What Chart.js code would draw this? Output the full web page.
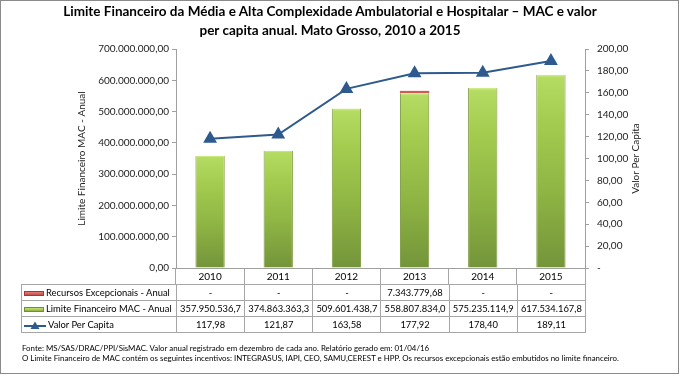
<!DOCTYPE html>
<html>
<head>
<meta charset="utf-8">
<script src="https://cdn.jsdelivr.net/npm/chart.js@4.4.1/dist/chart.umd.min.js"></script>
<style>
html,body{margin:0;padding:0;background:#fff;}
#wrap{position:relative;width:680px;height:376px;overflow:hidden;font-family:Lato,"DejaVu Sans",sans-serif;}
#frame{position:absolute;left:0;top:0;width:677px;height:372px;border:1px solid #8a8a8a;box-sizing:content-box;}
#c{position:absolute;left:0;top:0;}
#title{position:absolute;left:0;top:2px;width:660px;text-align:center;font-weight:bold;font-size:13.5px;line-height:19px;color:#000;}
#tbl{position:absolute;border-collapse:collapse;font-size:9.4px;color:#000;table-layout:fixed;}
#tbl td{border:1px solid #a6a6a6;padding:0;text-align:center;white-space:nowrap;overflow:hidden;height:15px;line-height:15px;}
#tbl td.lg{text-align:left;padding-left:2px;}
.sw{display:inline-block;width:20px;height:5px;vertical-align:middle;margin-right:2px;border:1px solid #777;box-sizing:border-box;}
.note{position:absolute;left:22px;font-size:7.9px;color:#000;white-space:nowrap;}
</style>
</head>
<body>
<div id="wrap">
  <div id="frame"></div>
  <canvas id="c" width="680" height="376"></canvas>
  <div id="title"></div>
  <table id="tbl"></table>
  <div class="note" id="n1" style="top:343px"></div>
  <div class="note" id="n2" style="top:353px"></div>
</div>
<script>
// ---- data ----
const titleLines = ["Limite Financeiro da Média e Alta Complexidade Ambulatorial e Hospitalar – MAC e valor", "per capita anual. Mato Grosso, 2010 a 2015"];
const categories = ["2010", "2011", "2012", "2013", "2014", "2015"];
const seriesNames = ["Recursos Excepcionais - Anual", "Limite Financeiro MAC - Anual", "Valor Per Capita"];
const recursosExcepcionais = [null, null, null, 7343779.68, null, null];
const limiteFinanceiro = [357950536.7, 374863363.3, 509601438.7, 558807834.0, 575235114.9, 617534167.8];
const valorPerCapita = [117.98, 121.87, 163.58, 177.92, 178.40, 189.11];
const leftAxisTitle = "Limite Financeiro MAC - Anual";
const rightAxisTitle = "Valor Per Capita";
const leftAxisMax = 700000000, leftAxisStep = 100000000;
const rightAxisMax = 200, rightAxisStep = 20;
const notes = ["Fonte: MS/SAS/DRAC/PPI/SisMAC. Valor  anual registrado em dezembro de  cada ano. Relatório gerado em: 01/04/16",
  "O Limite Financeiro de MAC contém os seguintes incentivos: INTEGRASUS, IAPI, CEO, SAMU,CEREST e HPP. Os recursos excepcionais estão embutidos no limite financeiro."];

const fmt = (v, d) => v.toLocaleString('pt-BR', {minimumFractionDigits: d, maximumFractionDigits: d});
const fmtTable1 = v => (v === null || v === 0) ? '-' : fmt(Math.floor(v * 10) / 10, 1);
const fmtTable2 = v => (v === null || v === 0) ? '-' : fmt(v, 2);

document.getElementById('title').innerHTML = titleLines.join('<br>');
document.getElementById('n1').textContent = notes[0];
document.getElementById('n2').textContent = notes[1];

const FONT = 'Lato';
const axisCol = '#a0a0a0';

function greenGrad(c) {
  const chart = c.chart;
  const {ctx, chartArea, scales} = chart;
  if (!chartArea || c.raw == null) return '#9bbb59';
  const top = scales.y.getPixelForValue(c.raw);
  const bot = scales.y.getPixelForValue(0);
  const g = ctx.createLinearGradient(0, top, 0, bot);
  g.addColorStop(0, '#d2ee8c');
  g.addColorStop(0.015, '#b4db62');
  g.addColorStop(0.25, '#a3cc4f');
  g.addColorStop(0.6, '#8fb544');
  g.addColorStop(1, '#74943a');
  return g;
}
function redGrad(c) {
  const chart = c.chart;
  const {ctx, chartArea} = chart;
  if (!chartArea) return '#c0504d';
  const g = ctx.createLinearGradient(0, chartArea.top, 0, chartArea.bottom);
  g.addColorStop(0, '#d9605c');
  g.addColorStop(1, '#b8423f');
  return g;
}

// right axis title, read bottom-to-top like the reference
const rightTitlePlugin = {
  id: 'rightTitle',
  afterDraw(chart) {
    const s = chart.scales.y2;
    const {ctx} = chart;
    ctx.save();
    ctx.translate(s.right - 44, (s.top + s.bottom) / 2);
    ctx.rotate(-Math.PI / 2);
    ctx.font = '10px ' + FONT;
    ctx.fillStyle = '#222';
    ctx.textAlign = 'center';
    ctx.textBaseline = 'middle';
    ctx.fillText(rightAxisTitle, 0, 0);
    ctx.restore();
  }
};

const chart = new Chart(document.getElementById('c'), {
  type: 'bar',
  data: {
    labels: categories,
    datasets: [
      {label: seriesNames[1], data: limiteFinanceiro, yAxisID: 'y', stack: 's', order: 1,
       backgroundColor: greenGrad, borderColor: '#7d9b3e', borderWidth: {left: 1, right: 1, top: 0, bottom: 0},
       categoryPercentage: 0.43, barPercentage: 1},
      {label: seriesNames[0], data: recursosExcepcionais, yAxisID: 'y', stack: 's', order: 2,
       backgroundColor: redGrad, borderWidth: 0, categoryPercentage: 0.43, barPercentage: 1},
      {type: 'line', label: seriesNames[2], data: valorPerCapita, yAxisID: 'y2', order: 0,
       borderColor: '#2e5a8e', borderWidth: 2, pointStyle: 'triangle', pointRadius: 6,
       pointBackgroundColor: '#2e5a8e', pointBorderColor: '#2e5a8e', tension: 0}
    ]
  },
  plugins: [rightTitlePlugin],
  options: {
    responsive: false, animation: false,
    layout: {padding: {top: 49, bottom: 92, left: 0, right: 0}},
    plugins: {legend: {display: false}, tooltip: {enabled: false}, title: {display: false}},
    scales: {
      x: {
        stacked: true,
        grid: {display: true, drawOnChartArea: false, offset: true, tickLength: 16, color: '#a6a6a6'},
        border: {color: axisCol},
        ticks: {font: {family: FONT, size: 10}, color: '#000', padding: -13, maxRotation: 0},
        afterFit: s => { s.height = 16; }
      },
      y: {
        stacked: true, min: 0, max: leftAxisMax,
        grid: {drawOnChartArea: false, tickLength: 4, color: axisCol},
        border: {color: axisCol},
        ticks: {stepSize: leftAxisStep, font: {family: FONT, size: 10}, color: '#222', padding: 3,
                callback: v => fmt(v, 2)},
        title: {display: true, text: leftAxisTitle, font: {family: FONT, size: 10}, color: '#222', padding: {top: 76, bottom: 0}},
        afterFit: s => { s.width = 176; }
      },
      y2: {
        position: 'right', min: 0, max: rightAxisMax,
        grid: {drawOnChartArea: false, tickLength: 4, color: axisCol},
        border: {color: axisCol},
        ticks: {stepSize: rightAxisStep, font: {family: FONT, size: 10}, color: '#222', padding: 8,
                callback: v => v === 0 ? '-' : fmt(v, 2)},
        title: {display: false},
        afterFit: s => { s.width = 95; }
      }
    }
  }
});

// ---- data table aligned with the chart's category scale ----
(function buildTable() {
  const ca = chart.chartArea;
  const tbl = document.getElementById('tbl');
  const left0 = 21;
  const colW = ca.width / categories.length;
  tbl.style.left = left0 + 'px';
  tbl.style.top = (chart.scales.x.bottom) + 'px';
  let html = '<colgroup><col style="width:' + (ca.left - left0) + 'px">';
  categories.forEach(() => html += '<col style="width:' + colW + 'px">');
  html += '</colgroup>';
  const rows = [
    {mark: '<span class="sw" style="background:linear-gradient(#e57b78,#c0504d);border-color:#a33"></span>', name: seriesNames[0], vals: recursosExcepcionais.map(fmtTable2)},
    {mark: '<span class="sw" style="background:linear-gradient(#c4e37a,#8cb342);border-color:#6f8f33"></span>', name: seriesNames[1], vals: limiteFinanceiro.map(fmtTable1)},
    {mark: '<svg width="22" height="9" style="vertical-align:middle;margin-right:2px"><line x1="0" y1="5" x2="22" y2="5" stroke="#2e5a8e" stroke-width="2"/><polygon points="11,0.5 15.5,8 6.5,8" fill="#2e5a8e"/></svg>', name: seriesNames[2], vals: valorPerCapita.map(fmtTable2)}
  ];
  rows.forEach(r => {
    html += '<tr><td class="lg">' + r.mark + r.name + '</td>';
    r.vals.forEach(v => html += '<td>' + v + '</td>');
    html += '</tr>';
  });
  tbl.innerHTML = html;
  tbl.style.width = (ca.right - left0) + 'px';
})();
</script>
</body>
</html>
